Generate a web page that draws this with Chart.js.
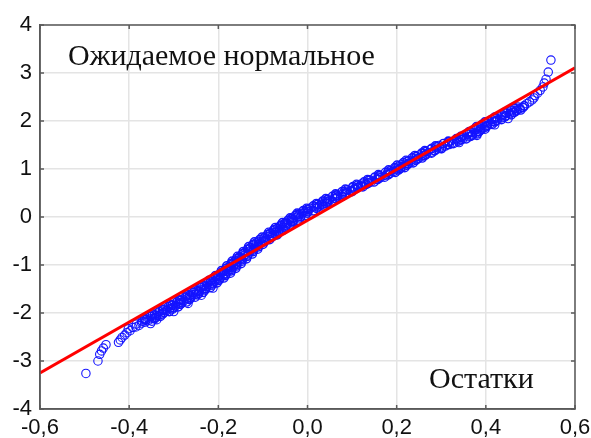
<!DOCTYPE html>
<html lang="ru">
<head>
<meta charset="utf-8">
<title>Нормальный вероятностный график остатков</title>
<script src="https://cdn.jsdelivr.net/npm/chart.js@4.4.0/dist/chart.umd.min.js"></script>
<style>
  html, body { margin: 0; padding: 0; background: #fff; }
  #wrap { width: 591px; height: 438px; }
</style>
</head>
<body>
<div id="wrap"><canvas id="qq" width="591" height="438"></canvas></div>
<script>
// ==========================================================
// данные: остатки (ось X) и ожидаемые нормальные значения (ось Y)
// ==========================================================
const residuals = [
  -0.497, -0.470, -0.466, -0.462, -0.458, -0.452, -0.424, -0.420, -0.416, -0.410,
  -0.405, -0.398, -0.402, -0.392, -0.385, -0.378, -0.384, -0.372, -0.364, -0.358,
  -0.366, -0.350, -0.344, -0.352, -0.338, -0.330, -0.336, -0.322, -0.316, -0.324,
  -0.308, -0.302, -0.296, -0.304, -0.290, -0.284, -0.278, -0.286, -0.270, -0.264,
  -0.272, -0.258, -0.250, -0.256, -0.244, -0.238, -0.232, -0.240, -0.226, -0.220,
  -0.226, -0.214, -0.208, -0.214, -0.202, -0.196, -0.200, -0.190, -0.186, -0.192,
  -0.180, -0.176, -0.181, -0.171, -0.166, -0.170, -0.161, -0.158, -0.162, -0.152,
  -0.148, -0.153, -0.143, -0.139, -0.143, -0.133, -0.128, -0.132, -0.121, -0.117,
  -0.121, -0.110, -0.105, -0.109, -0.098, -0.094, -0.097, -0.086, -0.082, -0.085,
  -0.074, -0.070, -0.073, -0.062, -0.057, -0.060, -0.050, -0.045, -0.048, -0.037,
  -0.033, -0.036, -0.025, -0.020, -0.023, -0.012, -0.007, -0.010, 0.001, 0.006,
  0.017, 0.027, 0.033, 0.031, 0.043, 0.049, 0.048, 0.061, 0.067, 0.065,
  0.078, 0.085, 0.082, 0.096, 0.104, 0.101, 0.115, 0.124, 0.121, 0.136,
  0.144, 0.141, 0.156, 0.164, 0.161, 0.175, 0.183, 0.180, 0.193, 0.200,
  0.198, 0.210, 0.216, 0.212, 0.226, 0.232, 0.228, 0.242, 0.249, 0.244,
  0.259, 0.266, 0.259, 0.278, 0.284, 0.276, 0.296, 0.302, 0.295, 0.318,
  0.324, 0.318, 0.340, 0.348, 0.342, 0.362, 0.368, 0.360, 0.378, 0.382,
  0.376, 0.391, 0.396, 0.388, 0.404, 0.410, 0.403, 0.420, 0.426, 0.420,
  0.436, 0.444, 0.438, 0.454, 0.462, 0.456, 0.470, 0.476, 0.472, 0.486,
  0.492, 0.498, 0.504, 0.508, 0.510, 0.516, 0.522, 0.528, 0.531, 0.535,
  0.540, 0.546,
  -0.352, -0.338, -0.300, -0.268, -0.238, -0.212, 0.300, 0.340, 0.380, 0.420, 0.450
];
const expected = [
  -3.26, -3.00, -2.86, -2.79, -2.73, -2.66, -2.61, -2.56, -2.51, -2.46,
  -2.41, -2.37, -2.33, -2.30, -2.29, -2.26, -2.23, -2.21, -2.19, -2.16,
  -2.14, -2.12, -2.10, -2.07, -2.05, -2.03, -2.00, -1.98, -1.95, -1.93,
  -1.91, -1.88, -1.85, -1.83, -1.80, -1.78, -1.75, -1.73, -1.70, -1.67,
  -1.65, -1.62, -1.60, -1.57, -1.55, -1.52, -1.49, -1.47, -1.45, -1.42,
  -1.39, -1.37, -1.34, -1.31, -1.29, -1.26, -1.23, -1.21, -1.18, -1.15,
  -1.13, -1.10, -1.07, -1.05, -1.02, -0.99, -0.97, -0.94, -0.91, -0.89,
  -0.86, -0.83, -0.81, -0.78, -0.75, -0.73, -0.70, -0.67, -0.65, -0.62,
  -0.59, -0.57, -0.54, -0.51, -0.49, -0.46, -0.43, -0.41, -0.38, -0.35,
  -0.33, -0.30, -0.27, -0.25, -0.22, -0.19, -0.17, -0.14, -0.11, -0.09,
  -0.06, -0.03, -0.01, 0.02, 0.05, 0.07, 0.10, 0.13, 0.15, 0.18,
  0.21, 0.23, 0.26, 0.29, 0.31, 0.34, 0.37, 0.39, 0.42, 0.45,
  0.47, 0.50, 0.53, 0.55, 0.58, 0.61, 0.63, 0.66, 0.69, 0.71,
  0.74, 0.77, 0.79, 0.82, 0.85, 0.87, 0.90, 0.93, 0.95, 0.98,
  1.01, 1.03, 1.06, 1.09, 1.11, 1.14, 1.17, 1.19, 1.22, 1.25,
  1.27, 1.30, 1.33, 1.35, 1.38, 1.41, 1.43, 1.46, 1.49, 1.51,
  1.54, 1.57, 1.59, 1.62, 1.65, 1.67, 1.70, 1.73, 1.75, 1.78,
  1.81, 1.83, 1.86, 1.89, 1.91, 1.94, 1.97, 1.99, 2.02, 2.05,
  2.07, 2.10, 2.13, 2.15, 2.18, 2.21, 2.23, 2.26, 2.29, 2.32,
  2.36, 2.40, 2.44, 2.48, 2.53, 2.58, 2.64, 2.71, 2.79, 2.87,
  3.02, 3.27,
  -2.22, -2.14, -1.97, -1.80, -1.63, -1.48, 1.42, 1.55, 1.70, 1.92, 2.05
];

// плотная полоса точек: общие значения Y и два ряда остатков по краям полосы
const bandExpected = [
  -2.17, -2.12, -2.07, -2.02, -1.97, -1.92, -1.87, -1.82, -1.77, -1.72,
  -1.67, -1.62, -1.57, -1.52, -1.47, -1.42, -1.37, -1.32, -1.27, -1.22,
  -1.17, -1.12, -1.07, -1.02, -0.97, -0.92, -0.87, -0.82, -0.77, -0.72,
  -0.67, -0.62, -0.57, -0.52, -0.47, -0.42, -0.37, -0.32, -0.27, -0.22,
  -0.17, -0.12, -0.07, -0.02, 0.03, 0.08, 0.13, 0.18, 0.23, 0.28,
  0.33, 0.38, 0.43, 0.48, 0.53, 0.58, 0.63, 0.68, 0.73, 0.78,
  0.83, 0.88, 0.93, 0.98, 1.03, 1.08, 1.13, 1.18, 1.23, 1.28,
  1.33, 1.38, 1.43, 1.48, 1.53, 1.58, 1.63, 1.68, 1.73, 1.78,
  1.83, 1.88, 1.93, 1.98, 2.03, 2.08, 2.13, 2.18, 2.23, 2.28
];
const bandResidualsLeft = [
  -0.371, -0.365, -0.352, -0.347, -0.332, -0.325, -0.312, -0.307, -0.293, -0.287,
  -0.274, -0.269, -0.256, -0.252, -0.240, -0.236, -0.225, -0.221, -0.210, -0.206,
  -0.195, -0.193, -0.183, -0.181, -0.171, -0.169, -0.159, -0.157, -0.146, -0.144,
  -0.134, -0.132, -0.122, -0.119, -0.107, -0.102, -0.090, -0.087, -0.076, -0.072,
  -0.060, -0.056, -0.044, -0.039, -0.027, -0.023, -0.009, -0.002, 0.013, 0.020,
  0.034, 0.041, 0.056, 0.063, 0.078, 0.085, 0.102, 0.110, 0.127, 0.135,
  0.151, 0.159, 0.175, 0.182, 0.196, 0.201, 0.215, 0.221, 0.235, 0.241,
  0.256, 0.263, 0.279, 0.287, 0.305, 0.316, 0.334, 0.344, 0.358, 0.363,
  0.376, 0.379, 0.392, 0.398, 0.413, 0.420, 0.435, 0.442, 0.456, 0.461
];
const bandResidualsRight = [
  -0.349, -0.343, -0.330, -0.325, -0.310, -0.303, -0.290, -0.285, -0.271, -0.265,
  -0.252, -0.247, -0.234, -0.230, -0.218, -0.214, -0.203, -0.199, -0.188, -0.184,
  -0.173, -0.171, -0.161, -0.159, -0.149, -0.147, -0.137, -0.135, -0.124, -0.122,
  -0.112, -0.110, -0.100, -0.097, -0.085, -0.080, -0.068, -0.065, -0.054, -0.050,
  -0.038, -0.034, -0.022, -0.017, -0.005, -0.001, 0.013, 0.020, 0.035, 0.042,
  0.056, 0.063, 0.078, 0.085, 0.100, 0.107, 0.124, 0.132, 0.149, 0.157,
  0.173, 0.181, 0.197, 0.204, 0.218, 0.223, 0.237, 0.243, 0.257, 0.263,
  0.278, 0.285, 0.301, 0.309, 0.327, 0.338, 0.356, 0.366, 0.380, 0.385,
  0.398, 0.401, 0.414, 0.420, 0.435, 0.442, 0.457, 0.464, 0.478, 0.483
];

// середина полосы (Y сдвинуты между рядами выше)
const midExpected = [
  -2.14, -2.09, -2.04, -1.99, -1.94, -1.89, -1.84, -1.79, -1.74, -1.69,
  -1.64, -1.59, -1.54, -1.49, -1.44, -1.39, -1.34, -1.29, -1.24, -1.19,
  -1.14, -1.09, -1.04, -0.99, -0.94, -0.89, -0.84, -0.79, -0.74, -0.69,
  -0.64, -0.59, -0.54, -0.49, -0.44, -0.39, -0.34, -0.29, -0.24, -0.19,
  -0.14, -0.09, -0.04, 0.01, 0.06, 0.11, 0.16, 0.21, 0.26, 0.31,
  0.36, 0.41, 0.46, 0.51, 0.56, 0.61, 0.66, 0.71, 0.76, 0.81,
  0.86, 0.91, 0.96, 1.01, 1.06, 1.11, 1.16, 1.21, 1.26, 1.31,
  1.36, 1.41, 1.46, 1.51, 1.56, 1.61, 1.66, 1.71, 1.76, 1.81,
  1.86, 1.91, 1.96, 2.01, 2.06, 2.11, 2.16, 2.21, 2.26, 2.31
];
const midResiduals = [
  -0.362, -0.340, -0.343, -0.322, -0.323, -0.300, -0.303, -0.282, -0.284, -0.262,
  -0.265, -0.244, -0.248, -0.228, -0.232, -0.212, -0.217, -0.197, -0.202, -0.183,
  -0.188, -0.170, -0.176, -0.159, -0.165, -0.147, -0.152, -0.134, -0.140, -0.122,
  -0.128, -0.110, -0.115, -0.095, -0.098, -0.078, -0.083, -0.064, -0.068, -0.048,
  -0.052, -0.032, -0.035, -0.015, -0.019, 0.001, 0.000, 0.023, 0.022, 0.045,
  0.044, 0.066, 0.065, 0.088, 0.088, 0.112, 0.112, 0.137, 0.137, 0.161,
  0.161, 0.185, 0.185, 0.208, 0.205, 0.226, 0.224, 0.246, 0.244, 0.266,
  0.265, 0.289, 0.289, 0.314, 0.317, 0.344, 0.345, 0.370, 0.367, 0.388,
  0.383, 0.403, 0.401, 0.423, 0.422, 0.445, 0.445, 0.468, 0.465, 0.486
];

// прямая нормального распределения (концы на границах оси X)
const fitX = [-0.6, 0.6];
const fitY = [-3.25, 3.11];

// деления осей
const xTicks = [-0.6, -0.4, -0.2, 0, 0.2, 0.4, 0.6];
const xTickLabels = ['-0,6', '-0,4', '-0,2', '0,0', '0,2', '0,4', '0,6'];
const yTicks = [-4, -3, -2, -1, 0, 1, 2, 3, 4];
const yTickLabels = ['-4', '-3', '-2', '-1', '0', '1', '2', '3', '4'];

const labelExpected = 'Ожидаемое нормальное';
const labelResiduals = 'Остатки';

// ==========================================================
// рамка, внутренние засечки и подписи внутри поля графика
// ==========================================================
const framePlugin = {
  id: 'frame',
  afterDraw(chart) {
    const ctx = chart.ctx;
    const a = chart.chartArea;
    const sx = chart.scales.x, sy = chart.scales.y;
    ctx.save();
    ctx.strokeStyle = '#5a5a5a';
    ctx.lineWidth = 1.5;
    ctx.strokeRect(a.left, a.top, a.right - a.left, a.bottom - a.top);

    // короткие засечки внутрь
    ctx.beginPath();
    yTicks.forEach(function(v) {
      const y = sy.getPixelForValue(v);
      ctx.moveTo(a.left, y); ctx.lineTo(a.left + 4, y);
      ctx.moveTo(a.right, y); ctx.lineTo(a.right - 4, y);
    });
    xTicks.forEach(function(v) {
      const x = sx.getPixelForValue(v);
      ctx.moveTo(x, a.bottom); ctx.lineTo(x, a.bottom - 4);
      ctx.moveTo(x, a.top); ctx.lineTo(x, a.top + 4);
    });
    ctx.stroke();

    ctx.fillStyle = '#111';
    ctx.font = '30px "Liberation Serif", "Times New Roman", serif';
    ctx.textBaseline = 'alphabetic';
    ctx.textAlign = 'left';
    ctx.fillText(labelExpected, a.left + 28, a.top + 40);
    ctx.fillText(labelResiduals, a.left + 389, a.top + 363);
    ctx.restore();
  }
};

const tickFont = { family: '"Liberation Sans", Arial, sans-serif', size: 22 };

function toPoints(xs, ys) {
  return xs.map(function(x, i) { return { x: x, y: ys[i] }; });
}

function circles(data, width) {
  return {
    data: data,
    pointStyle: 'circle',
    pointRadius: 4.2,
    borderWidth: width,
    borderColor: 'rgb(20,20,255)',
    backgroundColor: 'rgba(0,0,0,0)',
    order: 1
  };
}

new Chart(document.getElementById('qq'), {
  type: 'scatter',
  data: {
    datasets: [
      {
        type: 'line',
        data: toPoints(fitX, fitY),
        borderColor: '#ff0000',
        borderWidth: 3,
        pointRadius: 0,
        order: 0
      },
      circles(toPoints(residuals, expected), 1.1),
      circles(toPoints(bandResidualsLeft, bandExpected), 1.4),
      circles(toPoints(bandResidualsRight, bandExpected), 1.4),
      circles(toPoints(midResiduals, midExpected), 1.4)
    ]
  },
  options: {
    responsive: false,
    animation: false,
    events: [],
    layout: { padding: { top: 25, right: 16, left: 0, bottom: 0 } },
    plugins: { legend: { display: false }, tooltip: { enabled: false } },
    scales: {
      x: {
        type: 'linear',
        min: -0.6,
        max: 0.6,
        afterBuildTicks: function(s) { s.ticks = xTicks.map(function(v) { return { value: v }; }); },
        afterFit: function(s) { s.height = 29; s.paddingLeft = 0; s.paddingRight = 0; },
        grid: { color: '#e4e4e4', lineWidth: 1.5, drawTicks: false },
        border: { color: '#5a5a5a', width: 1.5 },
        ticks: {
          autoSkip: false,
          maxRotation: 0,
          padding: 6,
          color: '#111',
          font: tickFont,
          callback: function(v, i) { return xTickLabels[i]; }
        }
      },
      y: {
        type: 'linear',
        min: -4,
        max: 4,
        afterBuildTicks: function(s) { s.ticks = yTicks.map(function(v) { return { value: v }; }); },
        afterFit: function(s) { s.width = 40; s.paddingTop = 0; s.paddingBottom = 0; },
        grid: { color: '#e4e4e4', lineWidth: 1.5, drawTicks: false },
        border: { color: '#5a5a5a', width: 1.5 },
        ticks: {
          autoSkip: false,
          padding: 8,
          color: '#111',
          font: tickFont,
          callback: function(v, i) { return yTickLabels[i]; }
        }
      }
    }
  },
  plugins: [framePlugin]
});
</script>
</body>
</html>
